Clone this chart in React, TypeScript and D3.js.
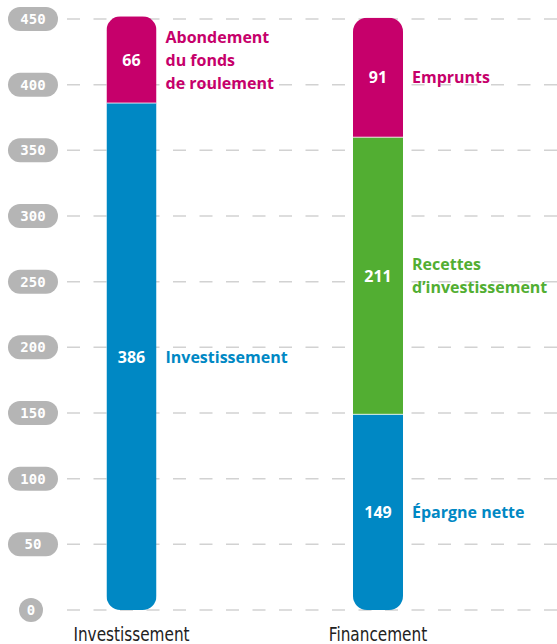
import React from "react";
import * as d3 from "d3";

const categories = ["Investissement", "Financement"];
const seriesInvest = [
  { name: "Investissement", value: 386, color: "#0088C4" },
  { name: "Abondement\ndu fonds\nde roulement", value: 66, color: "#C6006B" },
];
const seriesFinance = [
  { name: "Épargne nette", value: 149, color: "#0088C4" },
  { name: "Recettes\nd’investissement", value: 211, color: "#52AE32" },
  { name: "Emprunts", value: 91, color: "#C6006B" },
];
const tickValues = [0, 50, 100, 150, 200, 250, 300, 350, 400, 450];

const W = 557;
const H = 644;

export default function App() {
  const y = d3.scaleLinear().domain([0, 450]).range([610, 19]);
  const x = d3.scaleBand().domain(categories).range([8, 500]).paddingInner(0.8).paddingOuter(0.0);
  const bw = 50;
  const centers: Record<string, number> = { Investissement: 131.5, Financement: 378 };
  const stacks = [seriesInvest, seriesFinance];
  const labelFont = "'Open Sans', 'DejaVu Sans', sans-serif";

  return (
    <svg width={W} height={H} style={{ position: "absolute", left: 0, top: 0 }} xmlns="http://www.w3.org/2000/svg">
      <rect width={W} height={H} fill="#fff" />
      {tickValues.map((t) => {
        const yy = y(t);
        const pw = String(t).length === 1 ? 24 : 50;
        const cx = String(t).length === 1 ? 31 : 33;
        return (
          <g key={t}>
            <line x1={67} x2={W} y1={yy} y2={yy} stroke="#D2D2D2" strokeWidth={1.5} strokeDasharray="13 13.5" />
            <rect x={cx - pw / 2} y={yy - 12} width={pw} height={24} rx={12} fill="#B5B5B5" />
            <text x={cx} y={yy + 5} textAnchor="middle" fill="#fff" fontFamily="'DejaVu Sans Mono', monospace" fontWeight="bold" fontSize={14}>
              {t}
            </text>
          </g>
        );
      })}
      {categories.map((c, i) => {
        const cx = centers[c] ?? (x(c)! + x.bandwidth() / 2);
        const series = stacks[i];
        const stacked = d3.stack<any>().keys(series.map((s) => s.name))([
          Object.fromEntries(series.map((s) => [s.name, s.value])),
        ]);
        const total = d3.sum(series, (s) => s.value);
        const clipId = `clip-${i}`;
        return (
          <g key={c}>
            <defs>
              <clipPath id={clipId}>
                <rect x={cx - bw / 2} y={y(total)} width={bw} height={y(0) - y(total)} rx={14} />
              </clipPath>
            </defs>
            <g clipPath={`url(#${clipId})`}>
              {stacked.map((layer, j) => {
                const [y0, y1] = layer[0];
                return (
                  <rect key={j} x={cx - bw / 2} y={y(y1)} width={bw} height={y(y0) - y(y1)} fill={series[j].color} />
                );
              })}
              {stacked.slice(1).map((layer, j) => (
                <line key={j} x1={cx - bw / 2} x2={cx + bw / 2} y1={y(layer[0][0])} y2={y(layer[0][0])} stroke="#fff" strokeWidth={0.8} />
              ))}
            </g>
            {stacked.map((layer, j) => {
              const [y0, y1] = layer[0];
              const my = (y(y0) + y(y1)) / 2;
              const lines = series[j].name.split("\n");
              const lh = 23;
              const start = my - ((lines.length - 1) * lh) / 2;
              return (
                <g key={"l" + j}>
                  <text x={cx} y={my + 6} textAnchor="middle" fill="#fff" fontFamily={labelFont} fontWeight="bold" fontSize={16}>
                    {series[j].value}
                  </text>
                  {lines.map((ln, k) => (
                    <text key={k} x={cx + bw / 2 + 9} y={start + k * lh + 6} fill={series[j].color} fontFamily={labelFont} fontWeight="bold" fontSize={16}>
                      {ln}
                    </text>
                  ))}
                </g>
              );
            })}
            <g transform={`translate(${cx},641) scale(0.85,1)`}>
              <text x={0} y={0} textAnchor="middle" fill="#222" fontFamily="'Liberation Sans Narrow', 'DejaVu Sans Condensed', sans-serif" fontWeight={300} fontSize={20}>
                {c}
              </text>
            </g>
          </g>
        );
      })}
    </svg>
  );
}
